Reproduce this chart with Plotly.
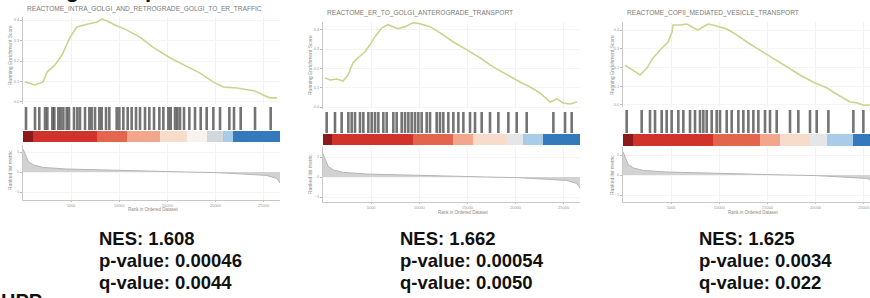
import plotly.graph_objects as go

W, H = 870, 298

# ---------------- data ----------------
titles = ["REACTOME_INTRA_GOLGI_AND_RETROGRADE_GOLGI_TO_ER_TRAFFIC",
          "REACTOME_ER_TO_GOLGI_ANTEROGRADE_TRANSPORT",
          "REACTOME_COPII_MEDIATED_VESICLE_TRANSPORT"]

es_rank_1 = [200, 1250, 2100, 2500, 3300, 4050, 4900, 5600, 6650, 7700, 8200, 8750, 9550, 10800,
             12150, 13500, 15300, 17050, 18400, 19750, 20800, 22250, 23300, 24100, 24950, 25650, 26400]
es_val_1 = [0.098, 0.083, 0.098, 0.146, 0.180, 0.229, 0.317, 0.366, 0.380, 0.390, 0.405, 0.395, 0.376, 0.351,
            0.317, 0.268, 0.215, 0.171, 0.141, 0.098, 0.073, 0.068, 0.059, 0.054, 0.034, 0.020, 0.020]

es_rank_2 = [200, 730, 1450, 2080, 2600, 3120, 3640, 4360, 4880, 5400, 6130, 6750, 7270, 7790, 8520, 9350,
             10080, 11120, 12160, 13510, 14960, 16310, 17660, 19120, 20470, 21510, 22550, 23590, 24310, 24940,
             25660, 26390]
es_val_2 = [0.151, 0.140, 0.145, 0.135, 0.166, 0.229, 0.255, 0.286, 0.322, 0.364, 0.410, 0.426, 0.416, 0.405,
            0.416, 0.436, 0.431, 0.416, 0.384, 0.338, 0.296, 0.255, 0.208, 0.166, 0.130, 0.104, 0.073, 0.026,
            0.042, 0.021, 0.016, 0.026]

es_rank_3 = [200, 1040, 1770, 2490, 3120, 4050, 4680, 5090, 5200, 5920, 6650, 7170, 7790, 8310, 8830, 9350,
             10080, 10810, 11840, 12880, 14230, 15580, 17040, 18390, 19740, 21200, 21820, 22860, 23590, 24310,
             24940, 25660]
es_val_3 = [0.213, 0.187, 0.160, 0.197, 0.251, 0.304, 0.336, 0.389, 0.427, 0.427, 0.432, 0.416, 0.400, 0.416,
            0.432, 0.427, 0.416, 0.405, 0.373, 0.336, 0.293, 0.251, 0.203, 0.160, 0.123, 0.091, 0.069, 0.037,
            0.016, 0.011, 0.000, 0.000]

hits_1 = [312, 1247, 1697, 2286, 2528, 3048, 3256, 3671, 3913, 4191, 4537, 4779, 5299, 5645, 5922, 6442,
          6892, 7134, 7481, 7931, 8173, 8624, 8970, 9732, 10009, 10425, 10875, 11290, 11741, 12156, 12676,
          13126, 13611, 14165, 14581, 15100, 15343, 15793, 16036, 16312, 16728, 17282, 17871, 18459, 19083,
          19776, 20468, 21438, 21923, 22615, 24104, 25731]
hits_2 = [381, 1247, 1940, 2632, 2979, 3325, 3844, 4191, 4710, 5056, 5403, 5749, 6269, 6615, 7308, 7654,
          8174, 8520, 8866, 9213, 9559, 9905, 10251, 10771, 11117, 11810, 12156, 12503, 13022, 13542, 14061,
          14581, 15273, 15793, 16485, 17351, 18217, 19256, 20122, 21161, 23931, 25144, 25836]
hits_3 = [381, 1940, 2805, 3325, 4018, 4537, 5056, 5749, 6269, 6961, 7481, 8000, 8347, 8693, 9213, 9732,
          10078, 10771, 11291, 11983, 12503, 13022, 13542, 14061, 14754, 15273, 15966, 17351, 18217, 19429,
          20122, 21334, 23931, 24970]

cb_edges_1 = [0, 1040, 7690, 10800, 14230, 17040, 19120, 20780, 21820, 26700]
cb_z_1 = [1.0, 0.85, 0.65, 0.42, 0.2, 0.0, -0.3, -0.6, -1.0]
cb_edges_2 = [0, 940, 9350, 13510, 15580, 19120, 20780, 22860, 26700]
cb_z_2 = [1.0, 0.85, 0.65, 0.42, 0.2, -0.15, -0.6, -1.0]
cb_edges_3 = [0, 1040, 9350, 14230, 16310, 19430, 21200, 23900, 26700]
cb_z_3 = [1.0, 0.85, 0.65, 0.42, 0.2, -0.15, -0.6, -1.0]

rm_rank = [0, 200, 550, 1100, 2100, 4500, 8000, 11500, 15000, 17000, 20100, 23600, 25300, 26350, 26550, 26700]
rm_val = [1.15, 0.95, 0.52, 0.35, 0.23, 0.15, 0.10, 0.07, 0.03, 0.0, -0.03, -0.10, -0.17, -0.32, -0.48, -0.55]

nes = ["1.608", "1.662", "1.625"]
pvals = ["0.00046", "0.00054", "0.0034"]
qvals = ["0.0044", "0.0050", "0.022"]

x_ticks = [5000, 10000, 15000, 20000, 25000]
es_ticks = [0.0, 0.1, 0.2, 0.3, 0.4]
rm_ticks = [-1, 0, 1]

# ---------------- layout geometry (pixels) ----------------
geo = [
    dict(left=23, right=280, xmax=26700, es=(17, 104), es_rng=(-0.01, 0.415), hit=(107, 130), cb=(131, 142),
         rm=(145, 200), rm_rng=(-1.4, 1.35), title_y=9, ytl_x=10, es_tc=55, rm_tc=170, xt=(153, 209),
         txt_x=97),
    dict(left=323, right=580, xmax=26700, es=(22, 109), es_rng=(-0.01, 0.44), hit=(112, 133), cb=(134, 145),
         rm=(147, 202), rm_rng=(-1.25, 1.5), title_y=13, ytl_x=310, es_tc=65, rm_tc=174, xt=(463, 212),
         txt_x=398),
    dict(left=623, right=870, xmax=25660, es=(22, 107), es_rng=(-0.011, 0.443), hit=(110, 133), cb=(134, 146),
         rm=(147, 202), rm_rng=(-1.35, 1.4), title_y=13, ytl_x=612, es_tc=65, rm_tc=175, xt=(753, 212),
         txt_x=697),
]

es_ranks = [es_rank_1, es_rank_2, es_rank_3]
es_vals = [es_val_1, es_val_2, es_val_3]
hits = [hits_1, hits_2, hits_3]
cb_edges = [cb_edges_1, cb_edges_2, cb_edges_3]
cb_zs = [cb_z_1, cb_z_2, cb_z_3]


def fx(px):
    return px / W


def fy(py):
    return 1 - py / H


cscale = [[0.0, "#3579bd"], [0.2, "#a9cde9"], [0.35, "#d3d8dc"], [0.5, "#f6f3f1"],
          [0.6, "#f8dccb"], [0.71, "#f2a68c"], [0.82, "#e4684f"], [0.92, "#d5352b"], [1.0, "#8c1a1a"]]

fig = go.Figure()
layout = dict(width=W, height=H, margin=dict(l=0, r=0, t=0, b=0), paper_bgcolor="white",
              plot_bgcolor="white", showlegend=False,
              font=dict(family="Liberation Sans, Arial, sans-serif"))
annotations = []

small_tick = dict(size=4, color="#9a9a9a")

for p in range(3):
    g = geo[p]
    base = p * 4
    xd = [fx(g["left"]), fx(g["right"])]
    ids = [base + r + 1 for r in range(4)]
    rows = [g["es"], g["hit"], g["cb"], g["rm"]]
    for r, idx in enumerate(ids):
        top, bot = rows[r]
        xn = "xaxis" if idx == 1 else f"xaxis{idx}"
        yn = "yaxis" if idx == 1 else f"yaxis{idx}"
        xa = dict(domain=xd, range=[0, g["xmax"]], anchor=f"y{idx}" if idx > 1 else "y",
                  showgrid=False, zeroline=False, showticklabels=False, ticks="", showline=False,
                  fixedrange=True)
        ya = dict(domain=[fy(bot), fy(top)], anchor=f"x{idx}" if idx > 1 else "x",
                  showgrid=False, zeroline=False, showticklabels=False, ticks="", showline=False,
                  fixedrange=True)
        if r == 0:
            xa.update(showgrid=True, gridcolor="#f1f1f1", tickvals=x_ticks)
            ya.update(range=list(g["es_rng"]), tickvals=es_ticks, showticklabels=True, ticks="outside",
                      ticklen=2, tickcolor="#bbbbbb", tickfont=small_tick, showline=True,
                      linecolor="#c8c8c8", linewidth=1, showgrid=True, gridcolor="#f4f4f4",
                      tickformat=".1f")
        elif r in (1, 2):
            ya.update(range=[0, 1])
        else:
            xa.update(tickvals=x_ticks, showticklabels=True, ticks="outside", ticklen=1,
                      tickcolor="#bbbbbb", tickfont=small_tick, showline=True, linecolor="#c8c8c8",
                      linewidth=1, showgrid=True, gridcolor="#f3f3f3", tickformat="d")
            ya.update(range=list(g["rm_rng"]), tickvals=rm_ticks, showticklabels=True, ticks="outside",
                      ticklen=2, tickcolor="#bbbbbb", tickfont=small_tick, showline=True,
                      linecolor="#c8c8c8", linewidth=1, showgrid=True, gridcolor="#f4f4f4")
        layout[xn] = xa
        layout[yn] = ya

    ax = lambda i: ("x" if i == 1 else f"x{i}", "y" if i == 1 else f"y{i}")

    # running enrichment score
    xr, yr = ax(ids[0])
    fig.add_trace(go.Scatter(x=es_ranks[p], y=es_vals[p], mode="lines",
                             line=dict(color="#cbd38e", width=1.6), xaxis=xr, yaxis=yr,
                             hoverinfo="skip"))
    # hits barcode
    hx, hy = [], []
    for h in hits[p]:
        hx += [h, h, None]
        hy += [0, 1, None]
    xr, yr = ax(ids[1])
    fig.add_trace(go.Scatter(x=hx, y=hy, mode="lines", line=dict(color="rgba(30,30,30,0.62)", width=2.6),
                             xaxis=xr, yaxis=yr, hoverinfo="skip"))
    # colour bar of ranked list
    xr, yr = ax(ids[2])
    fig.add_trace(go.Heatmap(x=cb_edges[p], y=[0, 1], z=[cb_zs[p]], colorscale=cscale, zmin=-1, zmax=1,
                             showscale=False, xaxis=xr, yaxis=yr, hoverinfo="skip"))
    # ranked list metric
    xr, yr = ax(ids[3])
    fig.add_trace(go.Scatter(x=rm_rank, y=rm_val, mode="lines", fill="tozeroy",
                             line=dict(color="#b5b5b5", width=1), fillcolor="#d2d2d2",
                             xaxis=xr, yaxis=yr, hoverinfo="skip"))

    # texts
    annotations.append(dict(text=titles[p], x=fx(g["left"] + 2), y=fy(g["title_y"]), xref="paper",
                            yref="paper", xanchor="left", yanchor="middle", showarrow=False,
                            font=dict(size=6.6, color="#7a7a7a")))
    annotations.append(dict(text="Running Enrichment Score", x=fx(g["ytl_x"]), y=fy(g["es_tc"]),
                            xref="paper", yref="paper", textangle=-90, showarrow=False,
                            xanchor="center", yanchor="middle",
                            font=dict(size=5, color="#8a8a8a")))
    annotations.append(dict(text="Ranked list metric", x=fx(g["ytl_x"]), y=fy(g["rm_tc"]),
                            xref="paper", yref="paper", textangle=-90, showarrow=False,
                            xanchor="center", yanchor="middle",
                            font=dict(size=5, color="#8a8a8a")))
    annotations.append(dict(text="Rank in Ordered Dataset", x=fx(g["xt"][0]), y=fy(g["xt"][1]),
                            xref="paper", yref="paper", showarrow=False,
                            xanchor="center", yanchor="middle",
                            font=dict(size=4.5, color="#8a8a8a")))
    stats = [f"<b>NES: {nes[p]}</b>", f"<b>p-value: {pvals[p]}</b>", f"<b>q-value: {qvals[p]}</b>"]
    for k, s in enumerate(stats):
        annotations.append(dict(text=s, x=fx(g["txt_x"]), y=fy(238 + 22 * k), xref="paper", yref="paper",
                                xanchor="left", yanchor="middle", showarrow=False,
                                font=dict(size=18.5, color="#111111")))

# partially visible headings cut by the image edges
annotations.append(dict(text="<b>Golgi transport</b>", x=fx(27), y=fy(4.2), xref="paper", yref="paper",
                        xanchor="left", yanchor="bottom", showarrow=False,
                        font=dict(size=22, color="#111111")))
annotations.append(dict(text="<b>HPP</b>", x=fx(-1), y=fy(288), xref="paper", yref="paper",
                        xanchor="left", yanchor="top", showarrow=False,
                        font=dict(size=20, color="#111111")))

layout["annotations"] = annotations
fig.update_layout(**layout)
fig.write_html("out.html", config={"displayModeBar": False},
               post_script="document.body.style.margin='0';document.body.style.overflow='hidden';")
